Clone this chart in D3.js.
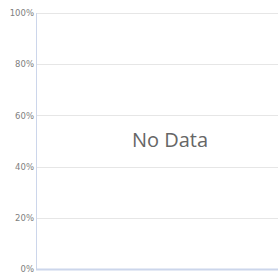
<!DOCTYPE html>
<html>
<head>
<meta charset="utf-8">
<script src="https://cdn.jsdelivr.net/npm/d3@7"></script>
<style>
  body { margin: 0; background: #fff; }
  #chart { width: 278px; height: 276px; }
</style>
</head>
<body>
<div id="chart"></div>
<script>
// no series: the chart only shows the empty message
var yTicks = [0, 20, 40, 60, 80, 100]
var seriesValues = []
var noDataText = "No Data"

var W = 278, H = 276
var margin = {top: 13, right: 0, bottom: 7, left: 36}
var width = W - margin.left - margin.right
var height = H - margin.top - margin.bottom

var svg = d3.select("#chart").append("svg")
    .attr("width", W)
    .attr("height", H)
    .style("font-family", "'Open Sans', sans-serif")

var g = svg.append("g")
    .attr("transform", "translate(" + margin.left + "," + margin.top + ")")

var y = d3.scaleLinear().domain([0, 100]).range([height, 0])

// gridlines
g.append("g")
    .selectAll("line")
    .data(yTicks.filter(function(d) { return d > 0 }))
    .enter().append("line")
    .attr("x1", 0).attr("x2", width)
    .attr("y1", function(d) { return Math.round(y(d)) + 0.5 })
    .attr("y2", function(d) { return Math.round(y(d)) + 0.5 })
    .attr("stroke", "#e6e6e6")
    .attr("stroke-width", 1)

// y axis labels
var yAxis = d3.axisLeft(y).tickValues(yTicks).tickSize(0).tickPadding(2)
    .tickFormat(function(d) { return d + "%" })
var ya = g.append("g").call(yAxis)
ya.select(".domain").remove()
ya.selectAll("text")
    .attr("fill", "#808080")
    .style("font-family", "'DejaVu Sans', sans-serif")
    .style("font-size", "8.5px")

// axis lines
g.append("line")
    .attr("x1", 0.5).attr("x2", 0.5)
    .attr("y1", 0).attr("y2", height)
    .attr("stroke", "#ccd6eb")
g.append("line")
    .attr("x1", 0).attr("x2", width)
    .attr("y1", height + 0.5).attr("y2", height + 0.5)
    .attr("stroke", "#ccd6eb")
    .attr("stroke-width", 2)

if (seriesValues.length === 0) {
  svg.append("text")
      .attr("x", 170)
      .attr("y", 147)
      .attr("text-anchor", "middle")
      .attr("fill", "#666")
      .style("font-size", "20px")
      .text(noDataText)
}
</script>
</body>
</html>
